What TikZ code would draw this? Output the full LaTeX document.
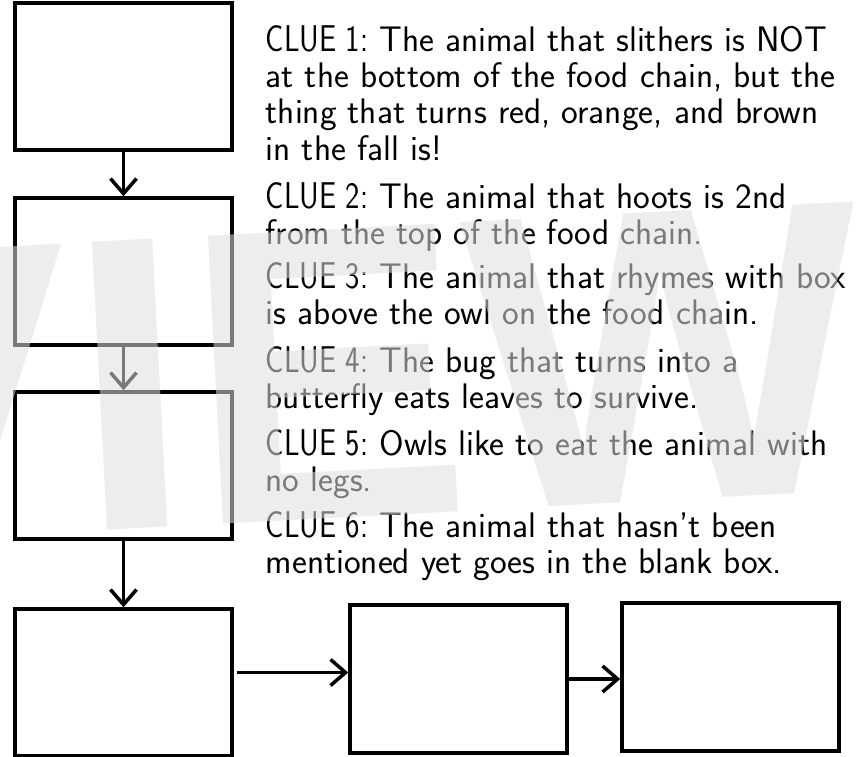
\documentclass[tikz,border=0pt]{standalone}
\usepackage{fontspec}
\newfontfamily\markfont{Liberation Sans}
\usetikzlibrary{arrows.meta}
\definecolor{markgray}{gray}{0.87}
\newcommand{\cluetag}[1]{\scalebox{0.86}[1.05]{CLUE #1:}}

\begin{document}
\begin{tikzpicture}[x=1pt,y=-1pt]
\tikzstyle{every path}=[line width=3.5pt]

\tikzstyle{foodbox}=[draw,minimum width=217pt,minimum height=147pt,inner sep=0pt]
\tikzstyle{chainarrow}=[-{Straight Barb[length=15pt,width=26pt]}]
\tikzstyle{clue}=[anchor=base west,align=left,inner sep=0pt,
  font=\sffamily\fontsize{35.5}{36}\selectfont]
\useasboundingbox (0,0) rectangle (856,757);
%% Draw left column of boxes
\node [foodbox] (box1) at (123.5,76.5) {};
\node [foodbox] (box2) at (123.5,271.5) {};
\node [foodbox] (box3) at (123.5,465.5) {};
\node [foodbox] (box4) at (123.5,682.5) {};
%% Draw bottom row
\node [foodbox,minimum height=148pt] (box5) at (458.5,679) {};
\node [foodbox,minimum height=148pt] (box6) at (730.5,677) {};
\draw [chainarrow] (box1) -- (box2);
\draw [chainarrow] (box2) -- (box3);
\draw [chainarrow] (box3) -- (box4);
\draw [chainarrow,shorten <=3pt] ([yshift=10pt]box4.east) -- ([yshift=10pt]box4.east -| box5.west);
\draw [chainarrow] (box5.east) -- (box5.east -| box6.west);
%% Clues (placed at baseline of last line)
\node [clue] (clue1) at (264,160) {\cluetag{1} The animal that slithers is NOT\\at the bottom of the food chain, but the\\thing that turns red, orange, and brown\\in the fall is!};
\node [clue] (clue2) at (264,244) {\cluetag{2} The animal that hoots is 2nd\\from the top of the food chain.};
\node [clue] (clue3) at (264,324) {\cluetag{3} The animal that rhymes with box\\is above the owl on the food chain.};
\node [clue] (clue4) at (264,408) {\cluetag{4} The bug that turns into a\\butterfly eats leaves to survive.};
\node [clue] (clue5) at (264,491) {\cluetag{5} Owls like to eat the animal with\\no legs.};
\node [clue] (clue6) at (264,573) {\cluetag{6} The animal that hasn't been\\mentioned yet goes in the blank box.};
%% Watermark
\node [anchor=base,rotate=3,inner sep=0pt,text=markgray,text opacity=0.55,
  font=\markfont\bfseries\fontsize{419}{419}\selectfont] (mark) at (335,518) {VIEW};
\end{tikzpicture}
\end{document}
